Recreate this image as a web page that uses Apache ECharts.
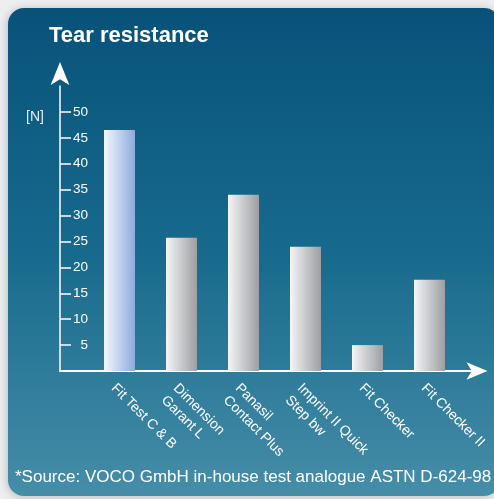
<!DOCTYPE html>
<html>
<head>
<meta charset="utf-8">
<script src="https://cdn.jsdelivr.net/npm/echarts@6/dist/echarts.min.js"></script>
<style>
html,body{margin:0;padding:0;background:#eceef0;}
#c{width:494px;height:499px;}
</style>
</head>
<body>
<div id="c"></div>
<script>
const categories = ['Fit Test C & B', 'Dimension\nGarant L', 'Panasil\nContact Plus', 'Imprint II Quick\nStep bw', 'Fit Checker', 'Fit Checker II'];
const values = [46.5, 25.7, 34.0, 24.0, 5.0, 17.6];
const yTicks = [5, 10, 15, 20, 25, 30, 35, 40, 45, 50];
const highlightIndex = 0;

const FONT = '"Liberation Sans", Arial, Helvetica, sans-serif';
const chart = echarts.init(document.getElementById('c'));

function barColor(i) {
  if (i === highlightIndex) {
    return new echarts.graphic.LinearGradient(0, 0, 1, 0, [
      { offset: 0, color: '#f4f7fd' },
      { offset: 1, color: '#8cabdb' }
    ]);
  }
  return new echarts.graphic.LinearGradient(0, 0, 1, 0, [
    { offset: 0, color: '#f5f5f6' },
    { offset: 1, color: '#9c9ea2' }
  ]);
}

const option = {
  backgroundColor: '#eceef0',
  animation: false,
  graphic: [
    {
      type: 'rect', z: -10,
      shape: { x: 8, y: 8, width: 492, height: 488, r: 16 },
      style: {
        fill: new echarts.graphic.LinearGradient(0, 0, 0, 1, [
          { offset: 0, color: '#08527a' },
          { offset: 0.5, color: '#176a8d' },
          { offset: 1, color: '#468da8' }
        ]),
        shadowBlur: 8, shadowColor: 'rgba(0,0,0,0.22)', shadowOffsetX: -1, shadowOffsetY: 1
      }
    },
    {
      type: 'text', z: 10, left: 49, top: 25,
      style: { text: 'Tear resistance', fill: '#ffffff', font: 'bold 22px ' + FONT }
    },
    {
      type: 'text', z: 10, left: 26, top: 110,
      style: { text: '[N]', fill: '#e6eef3', font: '14px ' + FONT }
    },
    {
      type: 'text', z: 10, left: 15, top: 469,
      style: { text: '*Source: VOCO GmbH in-house test analogue ASTN D-624-98', fill: '#ffffff', font: '17px ' + FONT }
    }
  ],
  grid: [
    { left: 88.5, right: 33.5, top: 86, bottom: 128 },
    { left: 60, right: 16.5, top: 86, bottom: 128 }
  ],
  xAxis: [
    {
      type: 'category', gridIndex: 0, data: categories,
      axisLine: { show: false }, axisTick: { show: false },
      axisLabel: {
        rotate: -45, margin: 9, color: '#ffffff', fontFamily: FONT, fontSize: 14,
        lineHeight: 17, interval: 0, align: 'left', verticalAlign: 'top'
      }
    },
    {
      type: 'value', gridIndex: 1, min: 0, max: 1,
      axisLine: { show: true, symbol: ['none', 'arrow'], symbolSize: [13, 21], symbolOffset: [0, 10], lineStyle: { color: '#ffffff', width: 2 } },
      axisTick: { show: false }, axisLabel: { show: false }, splitLine: { show: false }
    }
  ],
  yAxis: [
    {
      type: 'value', gridIndex: 0, min: 0, max: 55,
      axisLine: { show: false }, axisTick: { show: false }, axisLabel: { show: false }, splitLine: { show: false }
    },
    {
      type: 'value', gridIndex: 1, min: 0, max: 55,
      axisLine: { show: true, symbol: ['none', 'arrow'], symbolSize: [14, 23], symbolOffset: [0, 24], lineStyle: { color: '#ffffff', width: 1.5 } },
      axisTick: { show: true, inside: true, length: 11, customValues: yTicks, lineStyle: { color: '#ffffff', width: 1.5 } },
      axisLabel: { show: true, inside: true, margin: 28, align: 'right', customValues: yTicks, color: '#ffffff', fontFamily: FONT, fontSize: 13.5 },
      splitLine: { show: false }
    }
  ],
  series: [
    {
      type: 'bar', xAxisIndex: 0, yAxisIndex: 0, barWidth: 31,
      data: values.map((v, i) => ({ value: v, itemStyle: { color: barColor(i) } }))
    }
  ]
};
chart.setOption(option);
</script>
</body>
</html>
